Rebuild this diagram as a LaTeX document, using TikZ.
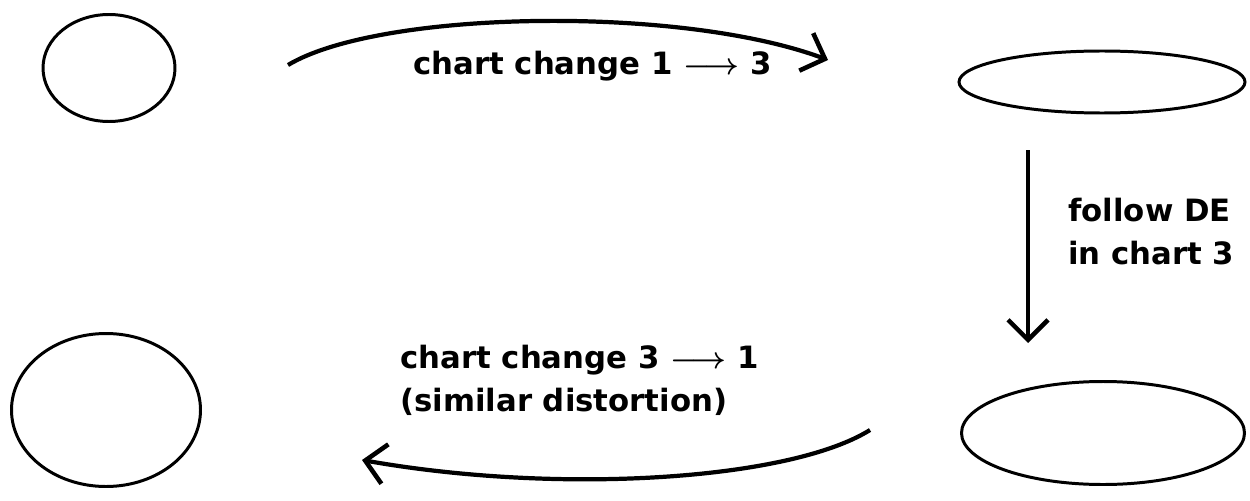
\documentclass[tikz,border=0pt]{standalone}
\usepackage{fontspec}
\setmainfont{DejaVu Sans}
\usetikzlibrary{shapes.geometric,arrows.meta}
\tikzset{
  chart/.style={draw, ellipse, line width=1.7pt, inner sep=0pt},
  flow/.style={line width=2.4pt, -{Straight Barb[length=4mm, width=8mm, line width=2.6pt]}},
  lbl/.style={font=\fontsize{17.5}{24.5}\selectfont\bfseries\boldmath, align=left, inner sep=0pt}
}
\begin{document}
\begin{tikzpicture}[x=0.02cm, y=-0.02cm]
                \useasboundingbox (0,0) rectangle (1250,500);
                
                % Charts (circle in chart 1, squashed ellipse in chart 3)
                \node[chart, minimum width=132*0.02cm, minimum height=107*0.02cm] (c1top) at (109,68) {};
                \node[chart, minimum width=286*0.02cm, minimum height=62*0.02cm] (c3top) at (1102,82) {};
                \node[chart, minimum width=283*0.02cm, minimum height=103*0.02cm] (c3bot) at (1103,433) {};
                \node[chart, minimum width=189*0.02cm, minimum height=153*0.02cm] (c1bot) at (106,410) {};
                
                % Free ends of the arrows
                \coordinate (topstart) at (288,65);
                \coordinate (topend) at (828,60);
                \coordinate (downstart) at (1028,150);
                \coordinate (downend) at (1028,343);
                \coordinate (botstart) at (870,430);
                \coordinate (botend) at (362,460);
                
                % Arrows
                \draw[flow] (topstart) .. controls (380,10) and (680,5) .. (topend);
                \draw[flow] (downstart) -- (downend);
                \draw[flow] (botstart) .. controls (790,480) and (560,495) .. (botend);
                
                % Labels
                \node[lbl, anchor=base west] (toplabel) at (413,74) {chart change 1 $\longrightarrow$ 3};
                \node[lbl, anchor=west] (rightlabel) at (1068,232) {follow DE\\in chart 3};
                \node[lbl, anchor=west] (botlabel) at (400,380) {chart change 3 $\longrightarrow$ 1\\(similar distortion)};
            \end{tikzpicture}
\end{document}
